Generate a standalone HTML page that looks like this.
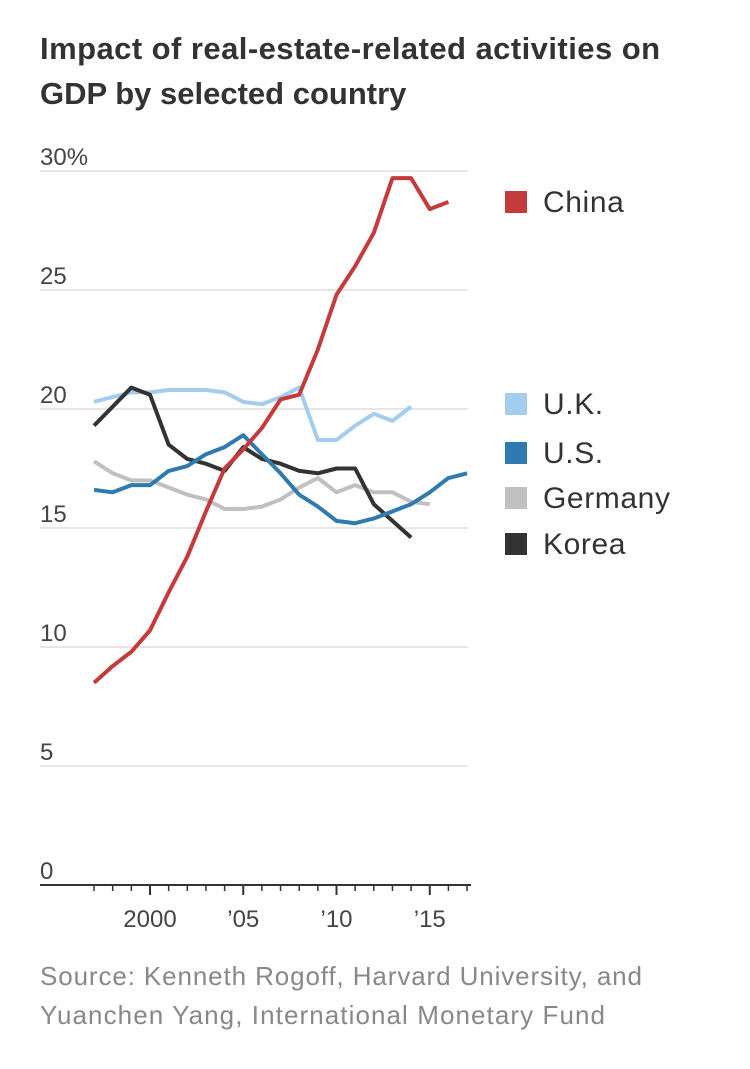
<!DOCTYPE html>
<html><head><meta charset="utf-8"><style>
body{margin:0;background:#fff;width:750px;height:1064px;overflow:hidden;font-family:"Liberation Sans",sans-serif}
</style></head><body>
<svg width="750" height="1064">
<text x="40" y="59" font-size="31" font-weight="bold" fill="#333" textLength="620">Impact of real-estate-related activities on</text>
<text x="40" y="104" font-size="31" font-weight="bold" fill="#333">GDP by selected country</text>
<g id="grid"></g><g id="lines"></g><g id="legend"></g>
<text x="40" y="985" font-size="26" fill="#888" textLength="602">Source: Kenneth Rogoff, Harvard University, and</text>
<text x="40" y="1024" font-size="26" fill="#888" textLength="565">Yuanchen Yang, International Monetary Fund</text>
</svg>
<script>
const yTicks=[0,5,10,15,20,25,30];
const yLabels=["0","5","10","15","20","25","30%"];
const xTicks=[2000,2005,2010,2015];
const xLabels=["2000","\u201905","\u201910","\u201915"];
const china=[8.5,9.2,9.8,10.7,12.3,13.8,15.7,17.5,18.3,19.2,20.4,20.6,22.5,24.8,26.0,27.4,29.7,29.7,28.4,28.7];
const uk=[20.3,20.5,20.7,20.7,20.8,20.8,20.8,20.7,20.3,20.2,20.5,20.9,18.7,18.7,19.3,19.8,19.5,20.1];
const us=[16.6,16.5,16.8,16.8,17.4,17.6,18.1,18.4,18.9,18.1,17.3,16.4,15.9,15.3,15.2,15.4,15.7,16.0,16.5,17.1,17.3];
const germany=[17.8,17.3,17.0,17.0,16.7,16.4,16.2,15.8,15.8,15.9,16.2,16.7,17.1,16.5,16.8,16.5,16.5,16.1,16.0];
const korea=[19.3,20.1,20.9,20.6,18.5,17.9,17.7,17.4,18.4,17.9,17.7,17.4,17.3,17.5,17.5,16.0,15.3,14.6];
const startYear=1997;
const NS="http://www.w3.org/2000/svg";
const xs=y=>150+(y-2000)*18.65;
const ys=v=>885-v*23.8;
function mk(t,a,p){const e=document.createElementNS(NS,t);for(const k in a)e.setAttribute(k,a[k]);p.appendChild(e);return e;}
const grid=document.getElementById('grid');
yTicks.forEach((v,i)=>{
 if(v>0){const l=mk('line',{x1:40,x2:468,y1:ys(v),y2:ys(v),stroke:'#ddd','stroke-width':1.5},grid);
 
 }
 const t=mk('text',{x:40,y:ys(v)-6,'font-size':24,fill:'#444'},grid);t.textContent=yLabels[i];
 
 
});
const ax=mk('line',{x1:40,x2:471,y1:885,y2:885,stroke:'#333','stroke-width':2},grid);


for(let y=1997;y<=2017;y++){const big=y%5==0;const tk=mk('line',{x1:xs(y),x2:xs(y),y1:885,y2:big?895:891,stroke:'#333','stroke-width':big?2:1.5},grid);
 
 }
xTicks.forEach((y,i)=>{const t=mk('text',{x:xs(y),y:927,'font-size':24,fill:'#444','text-anchor':'middle'},grid);t.textContent=xLabels[i];
 
 });
const series=[["germany",germany,"#c0c0c0"],["uk",uk,"#a3cdee"],["korea",korea,"#333"],["us",us,"#2f7bb0"],["china",china,"#c53a3a"]];
const lg=document.getElementById('lines');
series.forEach(([n,d,c])=>{const p=mk('polyline',{points:d.map((v,i)=>xs(startYear+i)+','+ys(v)).join(' '),fill:'none',stroke:c,'stroke-width':4,'stroke-linejoin':'round'},lg);
 
 });
const leg=[["China","#c53a3a",202],["U.K.","#a3cdee",404],["U.S.","#2f7bb0",453],["Germany","#c0c0c0",498],["Korea","#333",544]];
const L=document.getElementById('legend');
leg.forEach(([n,c,y])=>{const g=mk('g',{},L);
 
 
 mk('rect',{x:505,y:y-11,width:22,height:22,fill:c},g);
 const t=mk('text',{x:543,y:y+10,'font-size':30,fill:'#333','letter-spacing':'0.6'},g);t.textContent=n;});
</script>
</body></html>
